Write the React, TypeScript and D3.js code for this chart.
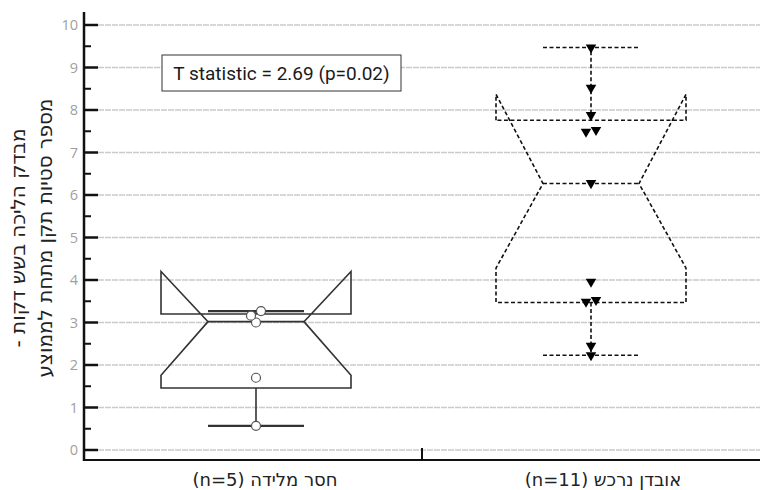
import * as d3 from "d3";

const WIDTH = 768;
const HEIGHT = 490;
const MARGIN = { top: 12, right: 8, bottom: 30, left: 84 };

// categories (left to right)
const categories = ["חסר מלידה (n=5)", "אובדן נרכש (n=11)"];

// box statistics per category
const whiskerLo = [0.57, 2.23];
const q1 = [1.46, 3.47];
const notchLo = [1.76, 4.28];
const median = [3.02, 6.27];
const q3 = [3.2, 7.76];
const notchHi = [4.2, 8.37];
const whiskerHi = [3.27, 9.47];

// raw observations
const pointsCongenital = [0.57, 1.7, 3.0, 3.16, 3.27];
const pointsAcquired = [9.47, 8.52, 7.88, 7.53, 7.49, 6.28, 3.96, 3.53, 3.49, 2.45, 2.23];

const yTicks = [0, 1, 2, 3, 4, 5, 6, 7, 8, 9, 10];
const yMinorTicks = [0.5, 1.5, 2.5, 3.5, 4.5, 5.5, 6.5, 7.5, 8.5, 9.5];

const yLabelLines = ["מבדק הליכה בשש דקות -", "מספר סטיות תקן מתחת לממוצע"];
const annotation = "T statistic = 2.69 (p=0.02)";

const HEB_FONT = "'DejaVu Sans', sans-serif";

// push apart points that would overlap
const jitter = (vals: number[]) =>
  vals.map((v) => {
    const close = vals.find((w) => w !== v && Math.abs(w - v) < 0.15);
    if (close === undefined) return 0;
    return v < close ? -5 : 5;
  });

export default function App() {
  const xScale = d3
    .scaleBand()
    .domain(categories)
    .range([MARGIN.left, WIDTH - MARGIN.right])
    .padding(0);
  const yScale = d3.scaleLinear().domain([0, 10]).range([450, 25]);

  const bottom = HEIGHT - MARGIN.bottom;
  const boxHalf = 95;
  const medHalf = 48;

  const boxes = categories.map((c, i) => {
    const cx = xScale(c)! + xScale.bandwidth() / 2 + (i === 0 ? 3 : 0);
    const dashed = i === 1;
    const stroke = dashed ? "#111" : "#333";
    const dash = dashed ? "4 2.5" : undefined;
    const xl = cx - boxHalf;
    const xr = cx + boxHalf;
    const ml = cx - medHalf;
    const mr = cx + medHalf;
    const path = d3.path();
    path.moveTo(xl, yScale(q3[i]));
    path.lineTo(xl, yScale(notchHi[i]));
    path.lineTo(ml, yScale(median[i]));
    path.lineTo(xl, yScale(notchLo[i]));
    path.lineTo(xl, yScale(q1[i]));
    path.lineTo(xr, yScale(q1[i]));
    path.lineTo(xr, yScale(notchLo[i]));
    path.lineTo(mr, yScale(median[i]));
    path.lineTo(xr, yScale(notchHi[i]));
    path.lineTo(xr, yScale(q3[i]));
    path.closePath();

    const pts = i === 0 ? pointsCongenital : pointsAcquired;
    const offs = jitter(pts);
    const tri = d3.symbol(d3.symbolTriangle, 48)()!;

    return (
      <g key={c}>
        <path d={path.toString()} fill="none" stroke={stroke} strokeWidth={1.6} strokeDasharray={dash} />
        <line x1={ml} x2={mr} y1={yScale(median[i])} y2={yScale(median[i])} stroke={stroke} strokeWidth={1.6} strokeDasharray={dash} />
        <line x1={cx} x2={cx} y1={yScale(q3[i])} y2={yScale(whiskerHi[i])} stroke={stroke} strokeWidth={1.6} strokeDasharray={dash} />
        <line x1={cx} x2={cx} y1={yScale(q1[i])} y2={yScale(whiskerLo[i])} stroke={stroke} strokeWidth={1.6} strokeDasharray={dash} />
        <line x1={ml} x2={mr} y1={yScale(whiskerHi[i])} y2={yScale(whiskerHi[i])} stroke={stroke} strokeWidth={dashed ? 1.6 : 2.2} strokeDasharray={dash} />
        <line x1={ml} x2={mr} y1={yScale(whiskerLo[i])} y2={yScale(whiskerLo[i])} stroke={stroke} strokeWidth={dashed ? 1.6 : 2.2} strokeDasharray={dash} />
        {pts.map((v, k) =>
          dashed ? (
            <path
              key={k}
              d={tri}
              transform={`translate(${cx + offs[k]},${yScale(v)}) rotate(180)`}
              fill="#000"
            />
          ) : (
            <circle key={k} cx={cx + offs[k]} cy={yScale(v)} r={4.5} fill="#fff" stroke="#555" strokeWidth={1.2} />
          )
        )}
      </g>
    );
  });

  return (
    <svg
      width={WIDTH}
      height={HEIGHT}
      style={{ position: "absolute", left: 0, top: 0, background: "#fff" }}
    >
      {/* grid */}
      {yTicks.map((t) => (
        <line key={t} x1={98} x2={WIDTH - MARGIN.right} y1={yScale(t)} y2={yScale(t)} stroke="#cacaca" strokeWidth={1.3} strokeDasharray="6 1" />
      ))}

      {/* annotation box */}
      <rect x={162} y={55} width={239} height={36} fill="#fff" stroke="#333" strokeWidth={1} />
      <text x={281.5} y={80} textAnchor="middle" fontFamily="Roboto, sans-serif" fontSize={19} fill="#1a1a1a">
        {annotation}
      </text>

      {boxes}

      {/* y axis */}
      <line x1={MARGIN.left} x2={MARGIN.left} y1={MARGIN.top} y2={bottom + 1} stroke="#111" strokeWidth={2.5} />
      {yTicks.map((t) => (
        <g key={t}>
          <line x1={MARGIN.left} x2={98} y1={yScale(t)} y2={yScale(t)} stroke="#111" strokeWidth={2.5} />
          <text x={78} y={yScale(t)} dy="0.35em" textAnchor="end" fontFamily="'Open Sans', sans-serif" fontSize={14.5} fill="#a0a0a0">
            {t}
          </text>
        </g>
      ))}
      {yMinorTicks.map((t) => (
        <line key={t} x1={MARGIN.left} x2={91} y1={yScale(t)} y2={yScale(t)} stroke="#111" strokeWidth={2} />
      ))}

      {/* x axis */}
      <line x1={MARGIN.left} x2={WIDTH - MARGIN.right} y1={bottom} y2={bottom} stroke="#111" strokeWidth={2} />
      <line x1={xScale(categories[1])!} x2={xScale(categories[1])!} y1={bottom - 12} y2={bottom} stroke="#111" strokeWidth={2} />
      {categories.map((c) => (
        <text
          key={c}
          x={xScale(c)! + xScale.bandwidth() / 2 + 12}
          y={486}
          textAnchor="middle"
          direction="rtl"
          fontFamily={HEB_FONT}
          fontSize={18}
          fill="#222"
        >
          {c}
        </text>
      ))}

      {/* y label */}
      {yLabelLines.map((l, i) => (
        <text
          key={i}
          transform={`translate(${25 + i * 27},238) rotate(-90)`}
          textAnchor="middle"
          direction="rtl"
          fontFamily={HEB_FONT}
          fontSize={20}
          fill="#222"
        >
          {l}
        </text>
      ))}
    </svg>
  );
}
